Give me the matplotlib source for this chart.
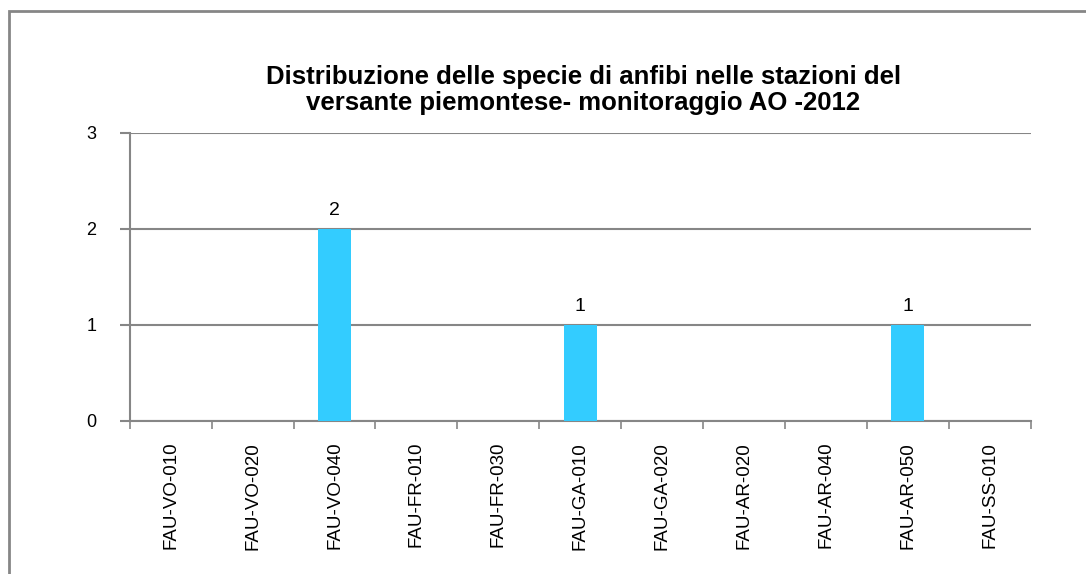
import matplotlib.pyplot as plt
from matplotlib.patches import Rectangle

# stazioni e numero di specie
stazioni = ['FAU-VO-010', 'FAU-VO-020', 'FAU-VO-040', 'FAU-FR-010', 'FAU-FR-030',
            'FAU-GA-010', 'FAU-GA-020', 'FAU-AR-020', 'FAU-AR-040', 'FAU-AR-050',
            'FAU-SS-010']
specie = [0, 0, 2, 0, 0, 1, 0, 0, 0, 1, 0]

plt.rcParams['font.family'] = ['Liberation Sans', 'DejaVu Sans']
grey = '#868686'

fig = plt.figure(figsize=(10.86, 5.74), dpi=100)
fig.patches.append(Rectangle((0.0083, -0.1), 1.2, 1.081, transform=fig.transFigure,
                             fill=False, edgecolor=grey, linewidth=2))

ax = fig.add_axes([0.1195, 0.2666, 0.8296, 0.5017])
x = range(len(stazioni))
bars = ax.bar(x, specie, width=0.4, color='#33CCFF', zorder=3)
for b, v in zip(bars, specie):
    if v > 0:
        ax.text(b.get_x() + b.get_width() / 2, v + 0.1, str(v), ha='center',
                va='bottom', fontsize=14)

ax.set_xlim(-0.5, len(stazioni) - 0.5)
ax.set_ylim(0, 3)
ax.set_yticks([0, 1, 2, 3])
ax.yaxis.grid(True, color=grey, linewidth=1.5, zorder=0)
ax.set_xticks(list(x))
ax.set_xticklabels(stazioni, rotation=90, fontsize=13.5)
ax.set_xticks([i - 0.5 for i in range(len(stazioni) + 1)], minor=True)
ax.tick_params(axis='x', which='major', length=0, pad=15)
ax.tick_params(axis='x', which='minor', length=6, color=grey, width=1.2)
ax.tick_params(axis='y', length=7, color=grey, width=1.5, labelsize=13, pad=17)
for s in ['top', 'right']:
    ax.spines[s].set_visible(False)
for s in ['left', 'bottom']:
    ax.spines[s].set_color(grey)
    ax.spines[s].set_linewidth(1.5)

fig.text(0.537, 0.80, 'Distribuzione delle specie di anfibi nelle stazioni del\n'
         'versante piemontese- monitoraggio AO -2012', ha='center', va='bottom',
         fontsize=18.5, fontweight='bold', linespacing=1.12)

fig.savefig('out.png', dpi=100)
